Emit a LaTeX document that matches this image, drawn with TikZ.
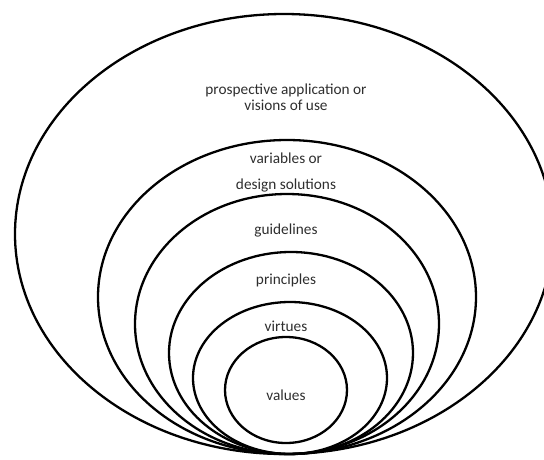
\documentclass[tikz,border=0pt]{standalone}
\usepackage{fontspec}
\setmainfont{Carlito}
\begin{document}
\begin{tikzpicture}[x=1pt,y=-1pt,
  ring/.style={draw=black,line width=2.3pt},
  label/.style={text=black!82,font=\fontsize{15.3}{17.5}\selectfont,align=center,inner sep=0pt}]
\useasboundingbox (0,0) rectangle (544,459);
\clip (0,0) rectangle (544,459);
% nested rings, all meeting near the bottom
\draw[ring] (284,234) ellipse [x radius=269,y radius=220];
\draw[ring] (287,297) ellipse [x radius=189,y radius=157];
\draw[ring] (287,324) ellipse [x radius=152,y radius=130];
\draw[ring] (291,353) ellipse [x radius=122,y radius=101];
\draw[ring] (290,378) ellipse [x radius=97,y radius=76];
\draw[ring] (286,390) ellipse [x radius=61,y radius=53];
% ring labels
\node[label] (app) at (286,97) {prospective application or\\[-1pt]visions of use};
\node[label] (var) at (286,158) {variables or};
\node[label] (des) at (286,185) {design solutions};
\node[label] (gui) at (286,230) {guidelines};
\node[label] (pri) at (286,280) {principles};
\node[label] (vir) at (286,326) {virtues};
\node[label] (val) at (286,395) {values};
\end{tikzpicture}
\end{document}
